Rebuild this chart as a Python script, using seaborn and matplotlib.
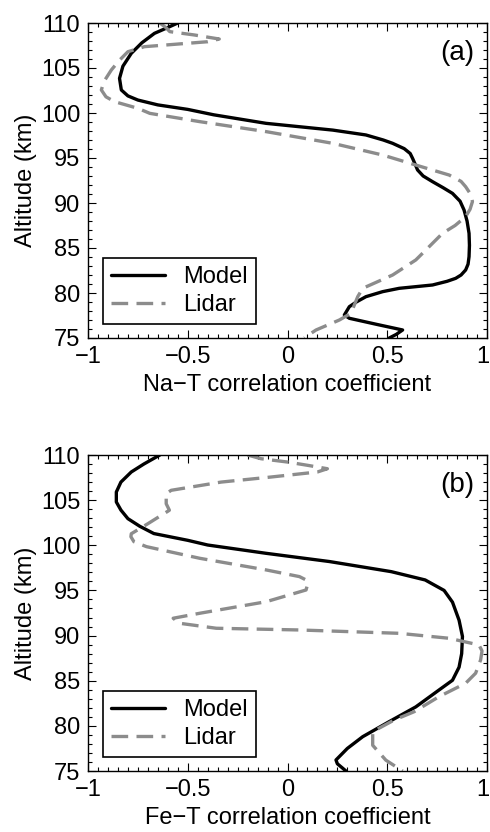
import matplotlib
matplotlib.use("Agg")
import matplotlib.pyplot as plt
import matplotlib.transforms as mtransforms
from matplotlib.ticker import MultipleLocator
import seaborn as sns

# panel (a): Na-T correlation, altitude in km
model_a_alt = [110.0, 109.5, 108.85, 107.8, 106.63, 105.2, 103.85, 102.56, 101.9, 101.44,
               100.9, 100.4, 99.8, 98.85, 98.1, 97.56, 97.0, 96.63, 96.04, 95.5,
               94.96, 94.3, 93.67, 93.0, 92.37, 91.7, 91.07, 90.2, 89.22, 88.0,
               86.63, 85.3, 84.04, 83.2, 82.56, 82.0, 81.63, 81.3, 80.89, 80.52,
               80.15, 79.59, 79.0, 78.48, 77.56, 77.19, 76.5, 75.89, 75.4, 75.0]
model_a_corr = [-0.55, -0.60, -0.667, -0.73, -0.783, -0.825, -0.842, -0.833, -0.80, -0.75,
                -0.65, -0.50, -0.37, -0.107, 0.227, 0.393, 0.48, 0.527, 0.585, 0.615,
                0.627, 0.64, 0.652, 0.68, 0.727, 0.78, 0.827, 0.865, 0.885, 0.90,
                0.91, 0.912, 0.91, 0.905, 0.893, 0.87, 0.843, 0.80, 0.727, 0.56,
                0.477, 0.393, 0.345, 0.31, 0.285, 0.31, 0.45, 0.577, 0.545, 0.51]

lidar_a_alt = [110.0, 109.5, 109.04, 108.67, 108.22, 107.92, 107.37, 106.81, 105.8, 104.78,
               103.5, 102.56, 101.8, 101.26, 100.52, 99.96, 99.04, 97.93, 96.63, 95.33,
               94.22, 93.11, 92.4, 91.81, 90.9, 90.15, 89.3, 88.48, 87.5, 86.63,
               84.04, 83.67, 82.0, 80.52, 79.59, 77.74, 77.0, 75.89, 75.15, 75.0]
lidar_a_corr = [-0.64, -0.61, -0.59, -0.467, -0.342, -0.40, -0.717, -0.80, -0.845, -0.883,
                -0.92, -0.933, -0.91, -0.867, -0.75, -0.69, -0.44, -0.107, 0.227, 0.477,
                0.643, 0.81, 0.87, 0.893, 0.92, 0.927, 0.915, 0.893, 0.84, 0.777,
                0.66, 0.643, 0.527, 0.377, 0.352, 0.318, 0.26, 0.143, 0.093, 0.085]

# panel (b): Fe-T correlation
model_b_alt = [110.0, 109.0, 108.12, 107.0, 105.9, 104.8, 103.9, 102.95, 102.1, 101.3,
               100.55, 100.03, 99.11, 98.2, 97.08, 96.16, 95.0, 93.7, 91.7, 89.9,
               88.0, 86.5, 85.05, 83.98, 82.1, 80.47, 78.8, 77.5, 76.22, 75.8,
               75.3, 75.0]
model_b_corr = [-0.64, -0.72, -0.783, -0.835, -0.858, -0.858, -0.835, -0.80, -0.74, -0.67,
                -0.50, -0.40, -0.107, 0.21, 0.52, 0.69, 0.785, 0.827, 0.86, 0.877,
                0.873, 0.86, 0.827, 0.76, 0.643, 0.51, 0.377, 0.30, 0.243, 0.25,
                0.277, 0.293]

lidar_b_alt = [110.0, 109.59, 109.22, 108.86, 108.48, 108.12, 107.56, 107.0, 106.09, 105.71,
               104.6, 103.88, 102.39, 101.28, 100.95, 100.4, 99.85, 98.56, 97.27, 96.53,
               96.16, 95.79, 95.05, 93.75, 92.47, 91.92, 91.36, 90.81, 90.62, 90.25,
               89.7, 88.96, 88.3, 87.3, 85.83, 84.72, 83.24, 81.57, 80.65, 79.36,
               77.85, 76.2, 75.0]
lidar_b_corr = [-0.20, -0.133, 0.0, 0.10, 0.20, 0.15, -0.083, -0.333, -0.583, -0.608,
                -0.608, -0.592, -0.70, -0.783, -0.785, -0.77, -0.707, -0.44, -0.107, 0.06,
                0.093, 0.102, 0.093, -0.107, -0.44, -0.573, -0.54, -0.357, 0.06, 0.56,
                0.81, 0.96, 0.975, 0.968, 0.943, 0.893, 0.76, 0.635, 0.535, 0.427,
                0.427, 0.493, 0.577]

x_ticks = [-1, -0.5, 0, 0.5, 1]
x_tick_labels = ["\u22121", "\u22120.5", "0", "0.5", "1"]
y_ticks = [75, 80, 85, 90, 95, 100, 105, 110]

sns.set_style("ticks")
plt.rcParams["font.family"] = ["Liberation Sans", "DejaVu Sans"]
# plain black text like the original figure
plt.rcParams["text.color"] = "black"
plt.rcParams["axes.labelcolor"] = "black"
plt.rcParams["xtick.color"] = "black"
plt.rcParams["ytick.color"] = "black"

fs = 17
fig = plt.figure(figsize=(4.9, 8.32), dpi=100)
ax_a = fig.add_axes([88 / 490, 1 - 338 / 832, 399 / 490, 315 / 832])
ax_b = fig.add_axes([88 / 490, 1 - 771 / 832, 399 / 490, 316 / 832])

panels = [
    (ax_a, model_a_corr, model_a_alt, lidar_a_corr, lidar_a_alt, "Na\u2212T correlation coefficient", "(a)"),
    (ax_b, model_b_corr, model_b_alt, lidar_b_corr, lidar_b_alt, "Fe\u2212T correlation coefficient", "(b)"),
]

for ax, mx, my, lx, ly, xlabel, tag in panels:
    sns.lineplot(x=mx, y=my, ax=ax, sort=False, estimator=None, color="black",
                 linewidth=2.4, label="Model")
    sns.lineplot(x=lx, y=ly, ax=ax, sort=False, estimator=None, color="#8c8c8c",
                 linewidth=2.4, linestyle=(0, (5, 2.5)), label="Lidar")

    ax.set_xlim(-1, 1)
    ax.set_ylim(75, 110)
    ax.set_xticks(x_ticks)
    ax.set_xticklabels(x_tick_labels)
    ax.set_yticks(y_ticks)
    ax.xaxis.set_minor_locator(MultipleLocator(0.05))
    ax.yaxis.set_minor_locator(MultipleLocator(1))
    ax.tick_params(which="both", direction="in", top=True, right=True,
                   width=0.8, color="black", labelcolor="black", labelsize=fs)
    ax.tick_params(which="major", length=6)
    ax.tick_params(which="minor", length=3)
    ax.tick_params(axis="y", pad=5.5)
    ax.tick_params(axis="x", pad=6)
    for sp in ax.spines.values():
        sp.set_linewidth(1.0)
        sp.set_color("black")

    # last x label sits at the figure edge: right-align it so it stays inside
    last = ax.get_xticklabels()[-1]
    last.set_horizontalalignment("right")
    last.set_transform(last.get_transform() +
                       mtransforms.ScaledTranslation(2 / 100, 0, fig.dpi_scale_trans))

    ax.set_xlabel(xlabel, fontsize=fs, labelpad=4, color="black")
    ax.set_ylabel("Altitude (km)", fontsize=fs, labelpad=3, color="black")
    ax.text(0.9675, 0.905, tag, transform=ax.transAxes, ha="right", va="center",
            fontsize=20, color="black")

    leg = ax.legend(loc="lower left", bbox_to_anchor=(0.037, 0.043), borderaxespad=0,
                    frameon=True, fancybox=False, edgecolor="black", framealpha=1,
                    fontsize=fs, handlelength=2.3, handletextpad=0.75,
                    labelspacing=0.25, borderpad=0.35, labelcolor="black")
    leg.get_frame().set_linewidth(1.2)

fig.savefig("out.png", dpi=100)
